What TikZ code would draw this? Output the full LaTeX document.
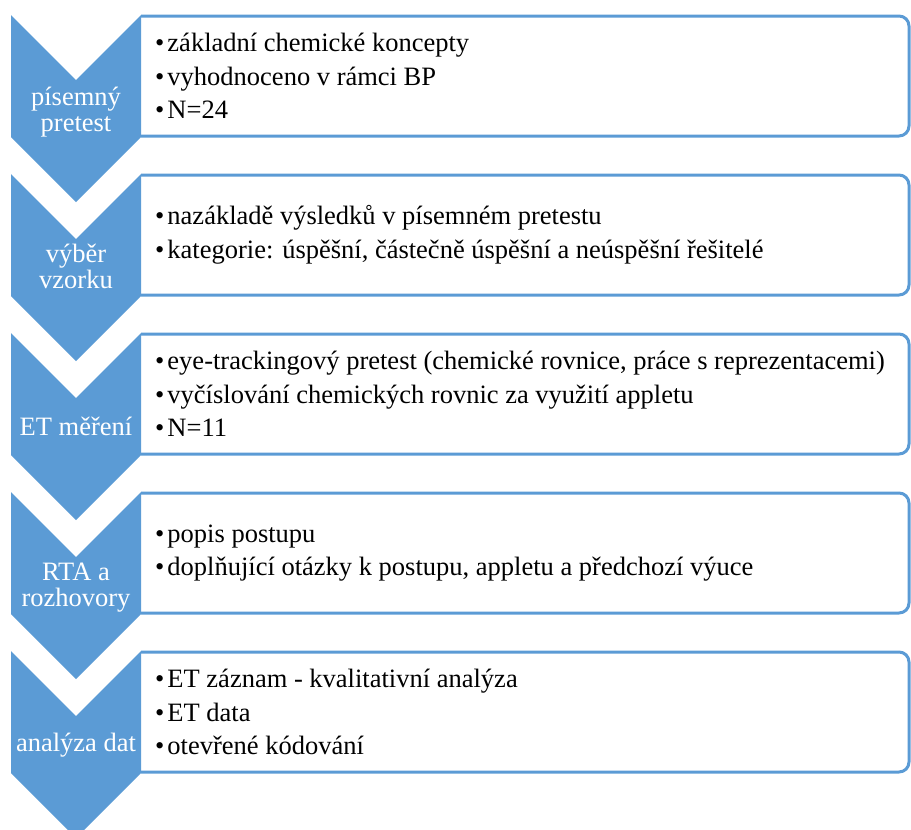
\documentclass[tikz,border=0pt]{standalone}
\usepackage{fontspec}
\setmainfont{Liberation Serif}
\newfontfamily\stepfont{Liberation Serif}
\definecolor{stepblue}{RGB}{91,155,213}
\newcommand{\bul}{\textbullet\hspace{3pt}}

\begin{document}
\begin{tikzpicture}[x=1pt, y=-1pt,
  chevron/.style={fill=stepblue},
  stepbox/.style={draw=stepblue, line width=3pt, fill=white},
  lbl/.style={text=white, align=center, inner sep=0pt, font=\stepfont\fontsize{26.5}{26}\selectfont},
  items/.style={anchor=west, align=left, inner sep=0pt, font=\stepfont\fontsize{26.5}{33.5}\selectfont}]
\clip (0,0) rectangle (911,830);
% boxes
\draw[stepbox] (141,16) [rounded corners=10pt] -- (909,16) -- (909,136) -- (141,136);
\draw[stepbox] (141,175) [rounded corners=10pt] -- (909,175) -- (909,295) -- (141,295);
\draw[stepbox] (141,334) [rounded corners=10pt] -- (909,334) -- (909,454) -- (141,454);
\draw[stepbox] (141,493) [rounded corners=10pt] -- (909,493) -- (909,613) -- (141,613);
\draw[stepbox] (141,652) [rounded corners=10pt] -- (909,652) -- (909,772) -- (141,772);
% chevrons
\fill[chevron] (11,15) -- (76,80) -- (141,15) -- (141,137) -- (76,202) -- (11,137) -- cycle;
\fill[chevron] (11,174) -- (76,239) -- (141,174) -- (141,296) -- (76,361) -- (11,296) -- cycle;
\fill[chevron] (11,333) -- (76,398) -- (141,333) -- (141,455) -- (76,520) -- (11,455) -- cycle;
\fill[chevron] (11,492) -- (76,557) -- (141,492) -- (141,614) -- (76,679) -- (11,614) -- cycle;
\fill[chevron] (11,651) -- (76,716) -- (141,651) -- (141,773) -- (76,838) -- (11,773) -- cycle;
% labels
\node[lbl] (l1) at (76,112.5) {písemný\\pretest};
\node[lbl] (l2) at (76,266.3) {výběr\\vzorku};
\node[lbl] (l3) at (76,426) {ET měření};
\node[lbl] (l4) at (76,587.7) {RTA a\\rozhovory};
\node[lbl] (l5) at (76,744.9) {analýza dat};
% items
\node[items] (t1) at (155,76) {\bul základní chemické koncepty\\\bul vyhodnoceno v rámci BP\\\bul N=24};
\node[items] (t2) at (155,235) {\bul nazákladě výsledků v písemném pretestu\\\bul kategorie: úspěšní, částečně úspěšní a neúspěšní řešitelé};
\node[items] (t3) at (155,394) {\bul eye-trackingový pretest (chemické rovnice, práce s reprezentacemi)\\\bul vyčíslování chemických rovnic za využití appletu\\\bul N=11};
\node[items] (t4) at (155,553) {\bul popis postupu\\\bul doplňující otázky k postupu, appletu a předchozí výuce};
\node[items] (t5) at (155,712) {\bul ET záznam - kvalitativní analýza\\\bul ET data\\\bul otevřené kódování};
\end{tikzpicture}
\end{document}
